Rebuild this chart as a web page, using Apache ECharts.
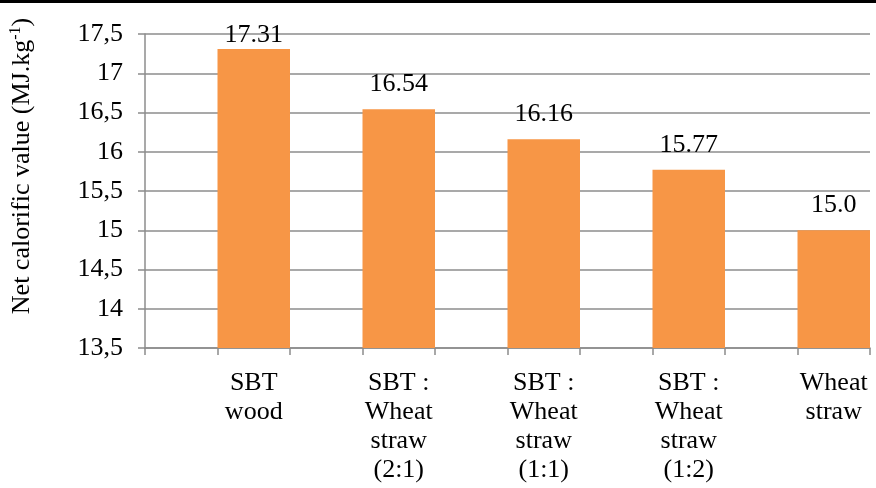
<!DOCTYPE html>
<html>
<head>
<meta charset="utf-8">
<script src="https://cdn.jsdelivr.net/npm/echarts@6/dist/echarts.min.js"></script>
<style>
  html, body { margin: 0; padding: 0; background: #fff; }
  #chart { width: 876px; height: 488px; }
</style>
</head>
<body>
<div id="chart"></div>
<script>
// 数据
var categories = ['SBT\nwood', 'SBT :\nWheat\nstraw\n(2:1)', 'SBT :\nWheat\nstraw\n(1:1)', 'SBT :\nWheat\nstraw\n(1:2)', 'Wheat\nstraw'];
var values = [17.31, 16.54, 16.16, 15.77, 15.0];
var valueLabels = ['17.31', '16.54', '16.16', '15.77', '15.0'];
var yTicks = ['13,5', '14', '14,5', '15', '15,5', '16', '16,5', '17', '17,5'];
var yMin = 13.5, yMax = 17.5;

// each bar sits in the right half of a slot, the left half is empty
var slots = [], slotValues = [], slotLabels = [];
categories.forEach(function (c, i) {
    slots.push('');
    slotValues.push(null);
    slotLabels.push('');
    slots.push(c);
    // label pulled down when it would leave the plot area (like Excel does)
    if (values[i] + 0.4 > yMax) {
        slotValues.push({value: values[i], label: {distance: 1}});
    } else {
        slotValues.push(values[i]);
    }
    slotLabels.push(valueLabels[i]);
});

var font = '"Liberation Serif", "Times New Roman", serif';
var gray = '#8c8c8c';

var myChart = echarts.init(document.getElementById('chart'));
myChart.setOption({
    animation: false,
    textStyle: {fontFamily: font},
    graphic: [
        {type: 'rect', left: 0, top: 0, shape: {width: 876, height: 3}, style: {fill: '#000'}}
    ],
    grid: {left: 145, right: 6, top: 34, bottom: 140, containLabel: false, outerBoundsMode: 'none'},
    xAxis: {
        type: 'category',
        data: slots,
        axisLine: {lineStyle: {color: gray, width: 1.5}},
        axisTick: {show: true, interval: 0, length: 7, lineStyle: {color: gray, width: 1.5}},
        axisLabel: {
            interval: 0,
            color: '#000',
            fontFamily: font,
            fontSize: 26,
            lineHeight: 29,
            margin: 21,
            verticalAlign: 'top'
        }
    },
    yAxis: {
        type: 'value',
        min: yMin,
        max: yMax,
        interval: 0.5,
        name: '{n|Net calorific value (MJ.kg}{s|-1}{n|)}',
        nameLocation: 'middle',
        nameRotate: 90,
        nameGap: 109,
        nameTextStyle: {
            padding: [0, 0, 0, 50],
            rich: {
                n: {fontFamily: font, fontSize: 26, color: '#000'},
                s: {fontFamily: font, fontSize: 16, color: '#000', verticalAlign: 'top', padding: [0, 0, 12, 0]}
            }
        },
        axisLine: {show: true, lineStyle: {color: gray, width: 1.5}},
        axisTick: {show: true, length: 7, lineStyle: {color: gray, width: 1.5}},
        axisLabel: {
            color: '#000',
            fontFamily: font,
            fontSize: 26,
            margin: 22,
            formatter: function (v) {
                return yTicks[Math.round((v - yMin) / 0.5)];
            }
        },
        splitLine: {lineStyle: {color: gray, width: 1.5}}
    },
    series: [
        {
            type: 'bar',
            data: slotValues,
            barWidth: '100%',
            itemStyle: {color: '#F79646'},
            label: {
                show: true,
                position: 'top',
                distance: 12,
                color: '#000',
                fontFamily: font,
                fontSize: 26,
                formatter: function (p) {
                    return slotLabels[p.dataIndex];
                }
            }
        }
    ]
});
</script>
</body>
</html>
